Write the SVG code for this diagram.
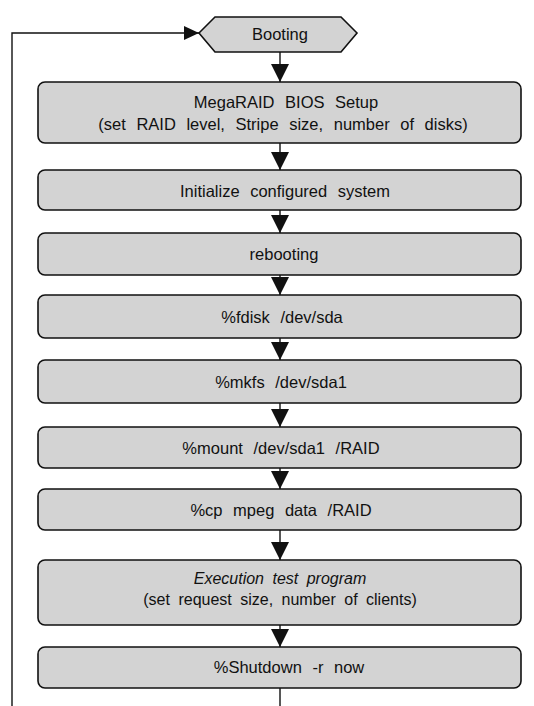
<svg xmlns="http://www.w3.org/2000/svg" width="534" height="706" viewBox="0 0 534 706">
<style>
.box{fill:#d3d3d3;stroke:#111;stroke-width:1.6}
.t{font-family:"Liberation Sans",Arial,sans-serif;font-size:16.5px;fill:#111;text-anchor:middle;word-spacing:6px}
.s{font-size:16px;word-spacing:4px}
.it{font-style:italic}
.c{fill:none;stroke:#111;stroke-width:1.4}
</style>
<defs>
<marker id="ah" viewBox="0 0 20 18" refX="18" refY="9" markerWidth="20" markerHeight="18" orient="auto" markerUnits="userSpaceOnUse">
<path d="M0,0 L18,9 L0,18 Z" fill="#111"/>
</marker>
<marker id="ahs" viewBox="0 0 16 14" refX="15" refY="7" markerWidth="16" markerHeight="14" orient="auto" markerUnits="userSpaceOnUse">
<path d="M0,0 L15,7 L0,14 Z" fill="#111"/>
</marker>
</defs>
<rect width="534" height="706" fill="#fff"/>
<g id="connectors">
<path class="c" d="M280,688 V720 H12 V33 H199" marker-end="url(#ahs)"/>
<line class="c" x1="280" y1="52" x2="280" y2="82" marker-end="url(#ah)"/>
<line class="c" x1="280" y1="143" x2="280" y2="170" marker-end="url(#ah)"/>
<line class="c" x1="280" y1="210" x2="280" y2="233" marker-end="url(#ah)"/>
<line class="c" x1="280" y1="275" x2="280" y2="295" marker-end="url(#ah)"/>
<line class="c" x1="280" y1="338" x2="280" y2="360" marker-end="url(#ah)"/>
<line class="c" x1="280" y1="403" x2="280" y2="427" marker-end="url(#ah)"/>
<line class="c" x1="280" y1="468" x2="280" y2="489" marker-end="url(#ah)"/>
<line class="c" x1="280" y1="530" x2="280" y2="560" marker-end="url(#ah)"/>
<line class="c" x1="280" y1="625" x2="280" y2="647" marker-end="url(#ah)"/>
</g>
<g id="booting">
<polygon class="box" points="199,33 215,17 341,17 357,33 341,52 215,52"/>
<text class="t" x="280" y="40">Booting</text>
</g>
<g id="bios">
<rect class="box" x="38" y="82" width="483" height="61" rx="7"/>
<text class="t" x="286" y="108">MegaRAID BIOS Setup</text>
<text class="t" x="283" y="130">(set RAID level, Stripe size, number of disks)</text>
</g>
<g id="init">
<rect class="box" x="38" y="170" width="483" height="40" rx="7"/>
<text class="t" x="285" y="197">Initialize configured system</text>
</g>
<g id="reboot">
<rect class="box" x="38" y="233" width="483" height="42" rx="7"/>
<text class="t" x="284" y="260">rebooting</text>
</g>
<g id="fdisk">
<rect class="box" x="38" y="295" width="483" height="43" rx="7"/>
<text class="t" x="282" y="323">%fdisk /dev/sda</text>
</g>
<g id="mkfs">
<rect class="box" x="38" y="360" width="483" height="43" rx="7"/>
<text class="t" x="281" y="388">%mkfs /dev/sda1</text>
</g>
<g id="mount">
<rect class="box" x="38" y="427" width="483" height="41" rx="7"/>
<text class="t" x="281" y="454">%mount /dev/sda1 /RAID</text>
</g>
<g id="cp">
<rect class="box" x="38" y="489" width="483" height="41" rx="7"/>
<text class="t" x="281" y="516">%cp mpeg data /RAID</text>
</g>
<g id="exec">
<rect class="box" x="38" y="560" width="483" height="65" rx="7"/>
<text class="t s it" x="280" y="584">Execution test program</text>
<text class="t s" x="280" y="605">(set request size, number of clients)</text>
</g>
<g id="shutdown">
<rect class="box" x="38" y="647" width="483" height="41" rx="7"/>
<text class="t" x="289" y="673" word-spacing="13">%Shutdown -r now</text>
</g>
</svg>
